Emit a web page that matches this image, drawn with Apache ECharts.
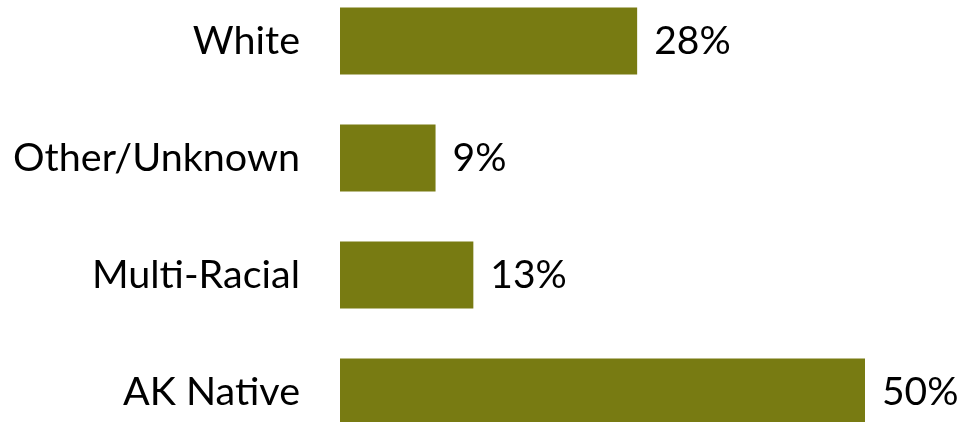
<!DOCTYPE html>
<html>
<head>
<meta charset="utf-8">
<script src="https://cdn.jsdelivr.net/npm/echarts@6/dist/echarts.min.js"></script>
<style>
	html, body { margin: 0; padding: 0; background: #fff; }
	#chart { width: 957px; height: 422px; }
</style>
</head>
<body>
<div id="chart"></div>
<script>
	// data, top to bottom (bar lengths, labels rounded)
	var categories = ['White', 'Other/Unknown', 'Multi-Racial', 'AK Native'];
	var shares = [28.3, 9.1, 12.7, 50];

	var fontFamily = 'Lato, "Open Sans", sans-serif';

	var chart = echarts.init(document.getElementById('chart'));

	chart.setOption({
		animation: false,
		grid: {
			left: 340,
			right: 92,
			top: 41,
			height: 351,
			outerBoundsMode: 'none'
		},
		xAxis: {
			type: 'value',
			min: 0,
			max: 50,
			show: false
		},
		yAxis: {
			type: 'category',
			inverse: true,
			boundaryGap: false,
			data: categories,
			axisLine: { show: false },
			axisTick: { show: false },
			axisLabel: {
				margin: 40,
				color: '#000',
				fontSize: 39.5,
				fontFamily: fontFamily
			}
		},
		series: [
			{
				type: 'bar',
				data: shares,
				barWidth: 67,
				itemStyle: { color: '#787B12' },
				label: {
					show: true,
					position: 'right',
					distance: 17,
					color: '#000',
					fontSize: 39,
					fontFamily: fontFamily,
					formatter: function (p) {
						return Math.round(p.value) + '%';
					}
				}
			}
		]
	});
</script>
</body>
</html>
